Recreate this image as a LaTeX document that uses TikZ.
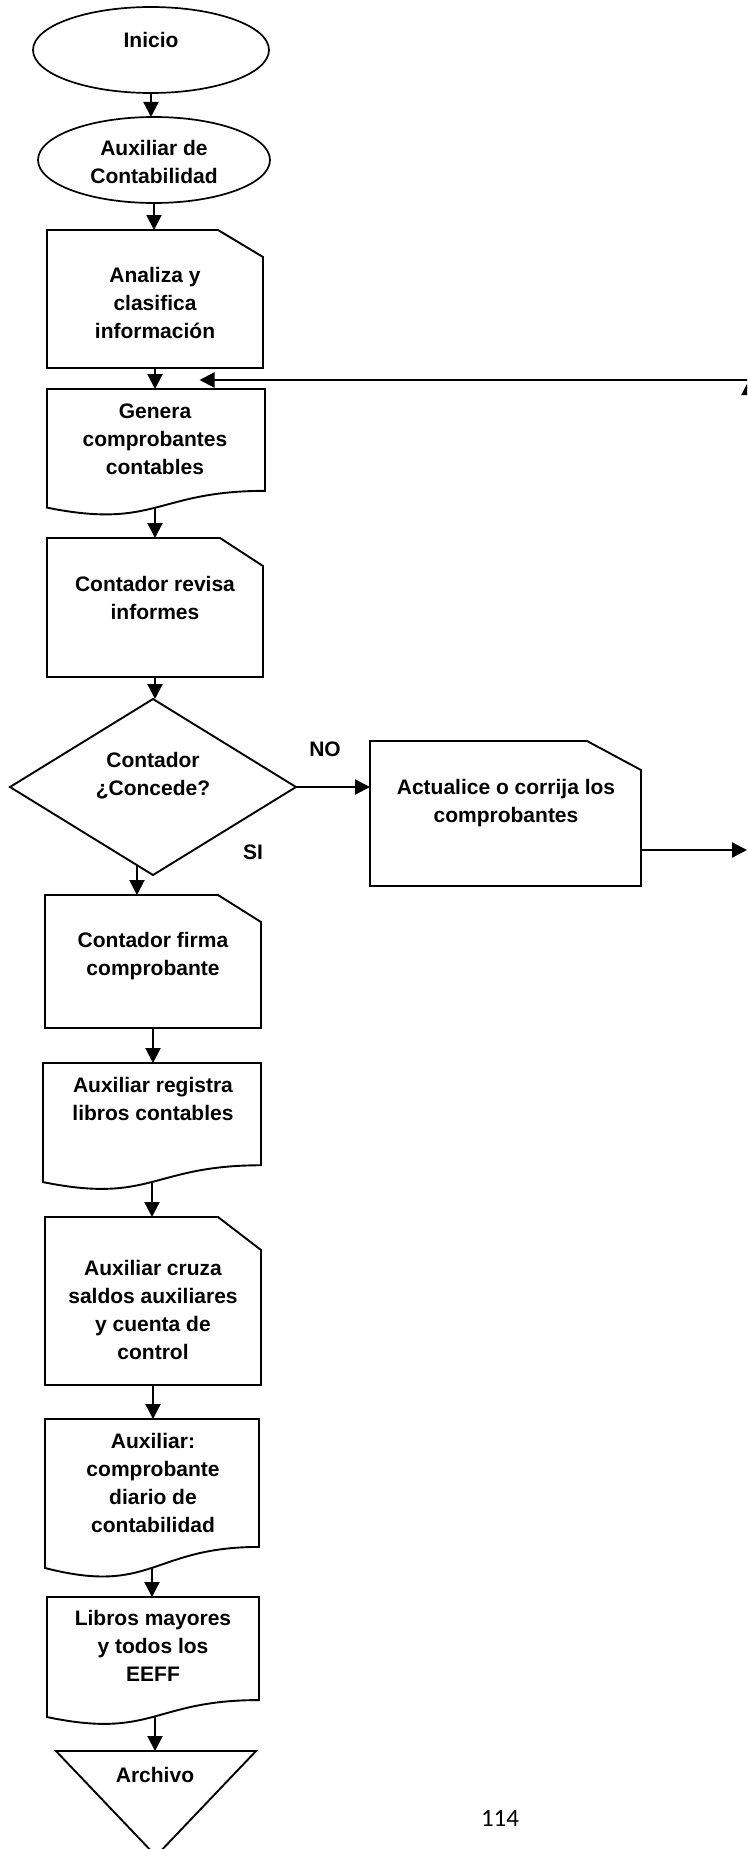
\documentclass[tikz,border=0pt]{standalone}
\usepackage{fontspec}
\setmainfont{Liberation Sans}
\newfontfamily\pagefont{Carlito}
\usetikzlibrary{arrows.meta,calc,shapes.geometric}

% outline of a card (cut top-right corner): node, cut width, cut height
\newcommand\cardoutline[3]{%
  \draw[outline] (#1.north west) -- ([xshift=-#2pt]#1.north east)
    -- ([yshift=-#3pt]#1.north east) -- (#1.south east)
    -- (#1.south west) -- cycle;}
% outline of a document (wavy bottom edge)
\newcommand\docoutline[1]{%
  \draw[outline] (#1.north west) -- (#1.north east)
    -- ($(#1.north east)!0.802!(#1.south east)$)
    .. controls ($(#1.north)!0.802!(#1.south)$) and ($(#1.north)!1.1075!(#1.south)$)
    .. ($(#1.north west)!0.934!(#1.south west)$) -- cycle;}

\begin{document}
\begin{tikzpicture}[x=1pt,y=-1pt,
  outline/.style={draw=black, line width=1.9pt, line join=miter},
  flow/.style={draw=black, line width=2.2pt, -{Triangle[length=15pt,width=15pt]}},
  frame/.style={draw=none, inner sep=0pt, outer sep=0pt},
  oval/.style={ellipse, draw=black, line width=1.7pt, inner sep=0pt, outer sep=0pt},
  txt/.style={font=\bfseries\fontsize{21}{28}\selectfont, align=center,
    inner sep=0pt, execute at begin node=\strut, execute at end node=\strut},
]
\useasboundingbox (0,0) rectangle (747,1849);
\clip (0,0) rectangle (747,1849);

% ---- shapes ----
\node[oval, minimum width=236pt, minimum height=86pt] (inicio) at (151,50) {};
\node[oval, minimum width=232pt, minimum height=86pt] (auxcont) at (154,160) {};

\node[frame, minimum width=216pt, minimum height=138pt] (analiza) at (155,299) {};
\cardoutline{analiza}{45}{27}

\node[frame, minimum width=218pt, minimum height=127pt] (genera) at (156,452.5) {};
\docoutline{genera}

\node[frame, minimum width=216pt, minimum height=139pt] (revisa) at (155,607.5) {};
\cardoutline{revisa}{43}{28}

\node[frame, minimum width=286pt, minimum height=176pt] (decide) at (153,787) {};
\draw[outline] (decide.north) -- (decide.east) -- (decide.south) -- (decide.west) -- cycle;

\node[frame, minimum width=271pt, minimum height=145pt] (actual) at (505.5,813.5) {};
\cardoutline{actual}{54}{29}

\node[frame, minimum width=216pt, minimum height=133pt] (firma) at (153,961.5) {};
\cardoutline{firma}{43}{27}

\node[frame, minimum width=218pt, minimum height=127.5pt] (registra) at (152,1126.75) {};
\docoutline{registra}

\node[frame, minimum width=216pt, minimum height=168pt] (cruza) at (153,1301) {};
\cardoutline{cruza}{43}{33}

\node[frame, minimum width=214pt, minimum height=159.5pt] (diario) at (152,1498.75) {};
\docoutline{diario}

\node[frame, minimum width=212pt, minimum height=128.5pt] (libros) at (153,1661.25) {};
\docoutline{libros}

\node[frame, minimum width=200pt, minimum height=105pt] (archivo) at (156,1803.5) {};
\draw[outline] (archivo.north west) -- (archivo.north east) -- (archivo.south) -- cycle;

% ---- texts ----
\node[txt] (t-inicio) at (151,42) {Inicio};
\node[txt] (t-auxcont) at (154,166) {Auxiliar de\\Contabilidad};
\node[txt] (t-analiza) at (155,307.5) {Analiza y\\clasifica\\información};
\node[txt] (t-genera) at (155,443) {Genera\\comprobantes\\contables};
\node[txt] (t-revisa) at (155,602) {Contador revisa\\informes};
\node[txt] (t-decide) at (153,778) {Contador\\¿Concede?};
\node[txt] (t-actual) at (506,805.5) {Actualice o corrija los\\comprobantes};
\node[txt] (t-firma) at (153,958) {Contador firma\\comprobante};
\node[txt] (t-registra) at (153,1103) {Auxiliar registra\\libros contables};
\node[txt] (t-cruza) at (153,1314) {Auxiliar cruza\\saldos auxiliares\\y cuenta de\\control};
\node[txt] (t-diario) at (153,1487) {Auxiliar:\\comprobante\\diario de\\contabilidad};
\node[txt] (t-libros) at (153,1650) {Libros mayores\\y todos los\\EEFF};
\node[txt] (t-archivo) at (155,1777) {Archivo};
\node[txt] (l-no) at (325,751) {NO};
\node[txt] (l-si) at (253,854) {SI};
\node[anchor=base, inner sep=0pt, font=\pagefont\fontsize{25}{30}\selectfont] (pagenum) at (500,1826) {114};

% ---- connectors ----
\draw[flow] (inicio.south) -- (inicio.south |- auxcont.north);
\draw[flow] (auxcont.south) -- (auxcont.south |- analiza.north);
\draw[flow] (analiza.south) -- (analiza.south |- genera.north);
\coordinate (genera-w) at ($(genera.north)!0.933!(genera.south)$);
\draw[flow] (genera-w -| revisa.north) -- (revisa.north);
\draw[flow] (revisa.south) -- (revisa.south |- decide.north);
\draw[flow] (decide.east) -- (decide.east -| actual.west);
\coordinate (si-start) at ($(decide.south)!0.112!(decide.west)$);
\draw[flow] (si-start) -- (si-start |- firma.north);
\draw[flow] (firma.south) -- (firma.south |- registra.north);
\coordinate (registra-w) at ($(registra.north)!0.933!(registra.south)$);
\draw[flow] (registra-w) -- (registra-w |- cruza.north);
\draw[flow] (cruza.south) -- (cruza.south |- diario.north);
\coordinate (diario-w) at ($(diario.north)!0.933!(diario.south)$);
\draw[flow] (diario-w) -- (diario-w |- libros.north);
\coordinate (libros-w) at ($(libros.north)!0.933!(libros.south)$);
\draw[flow] ([xshift=2pt]libros-w) -- ([xshift=2pt]libros-w |- archivo.north);

% return path to "Genera comprobantes"
\coordinate (out-r) at (747,850);
\draw[flow] (actual.east |- out-r) -- (out-r);
\coordinate (loop-b) at (749,850);
\coordinate (loop-t) at (749,380);
\coordinate (loop-end) at (199.5,380);
\draw[flow] (loop-b) -- (loop-t);
\draw[flow] (loop-t) -- (loop-end);
\end{tikzpicture}
\end{document}
